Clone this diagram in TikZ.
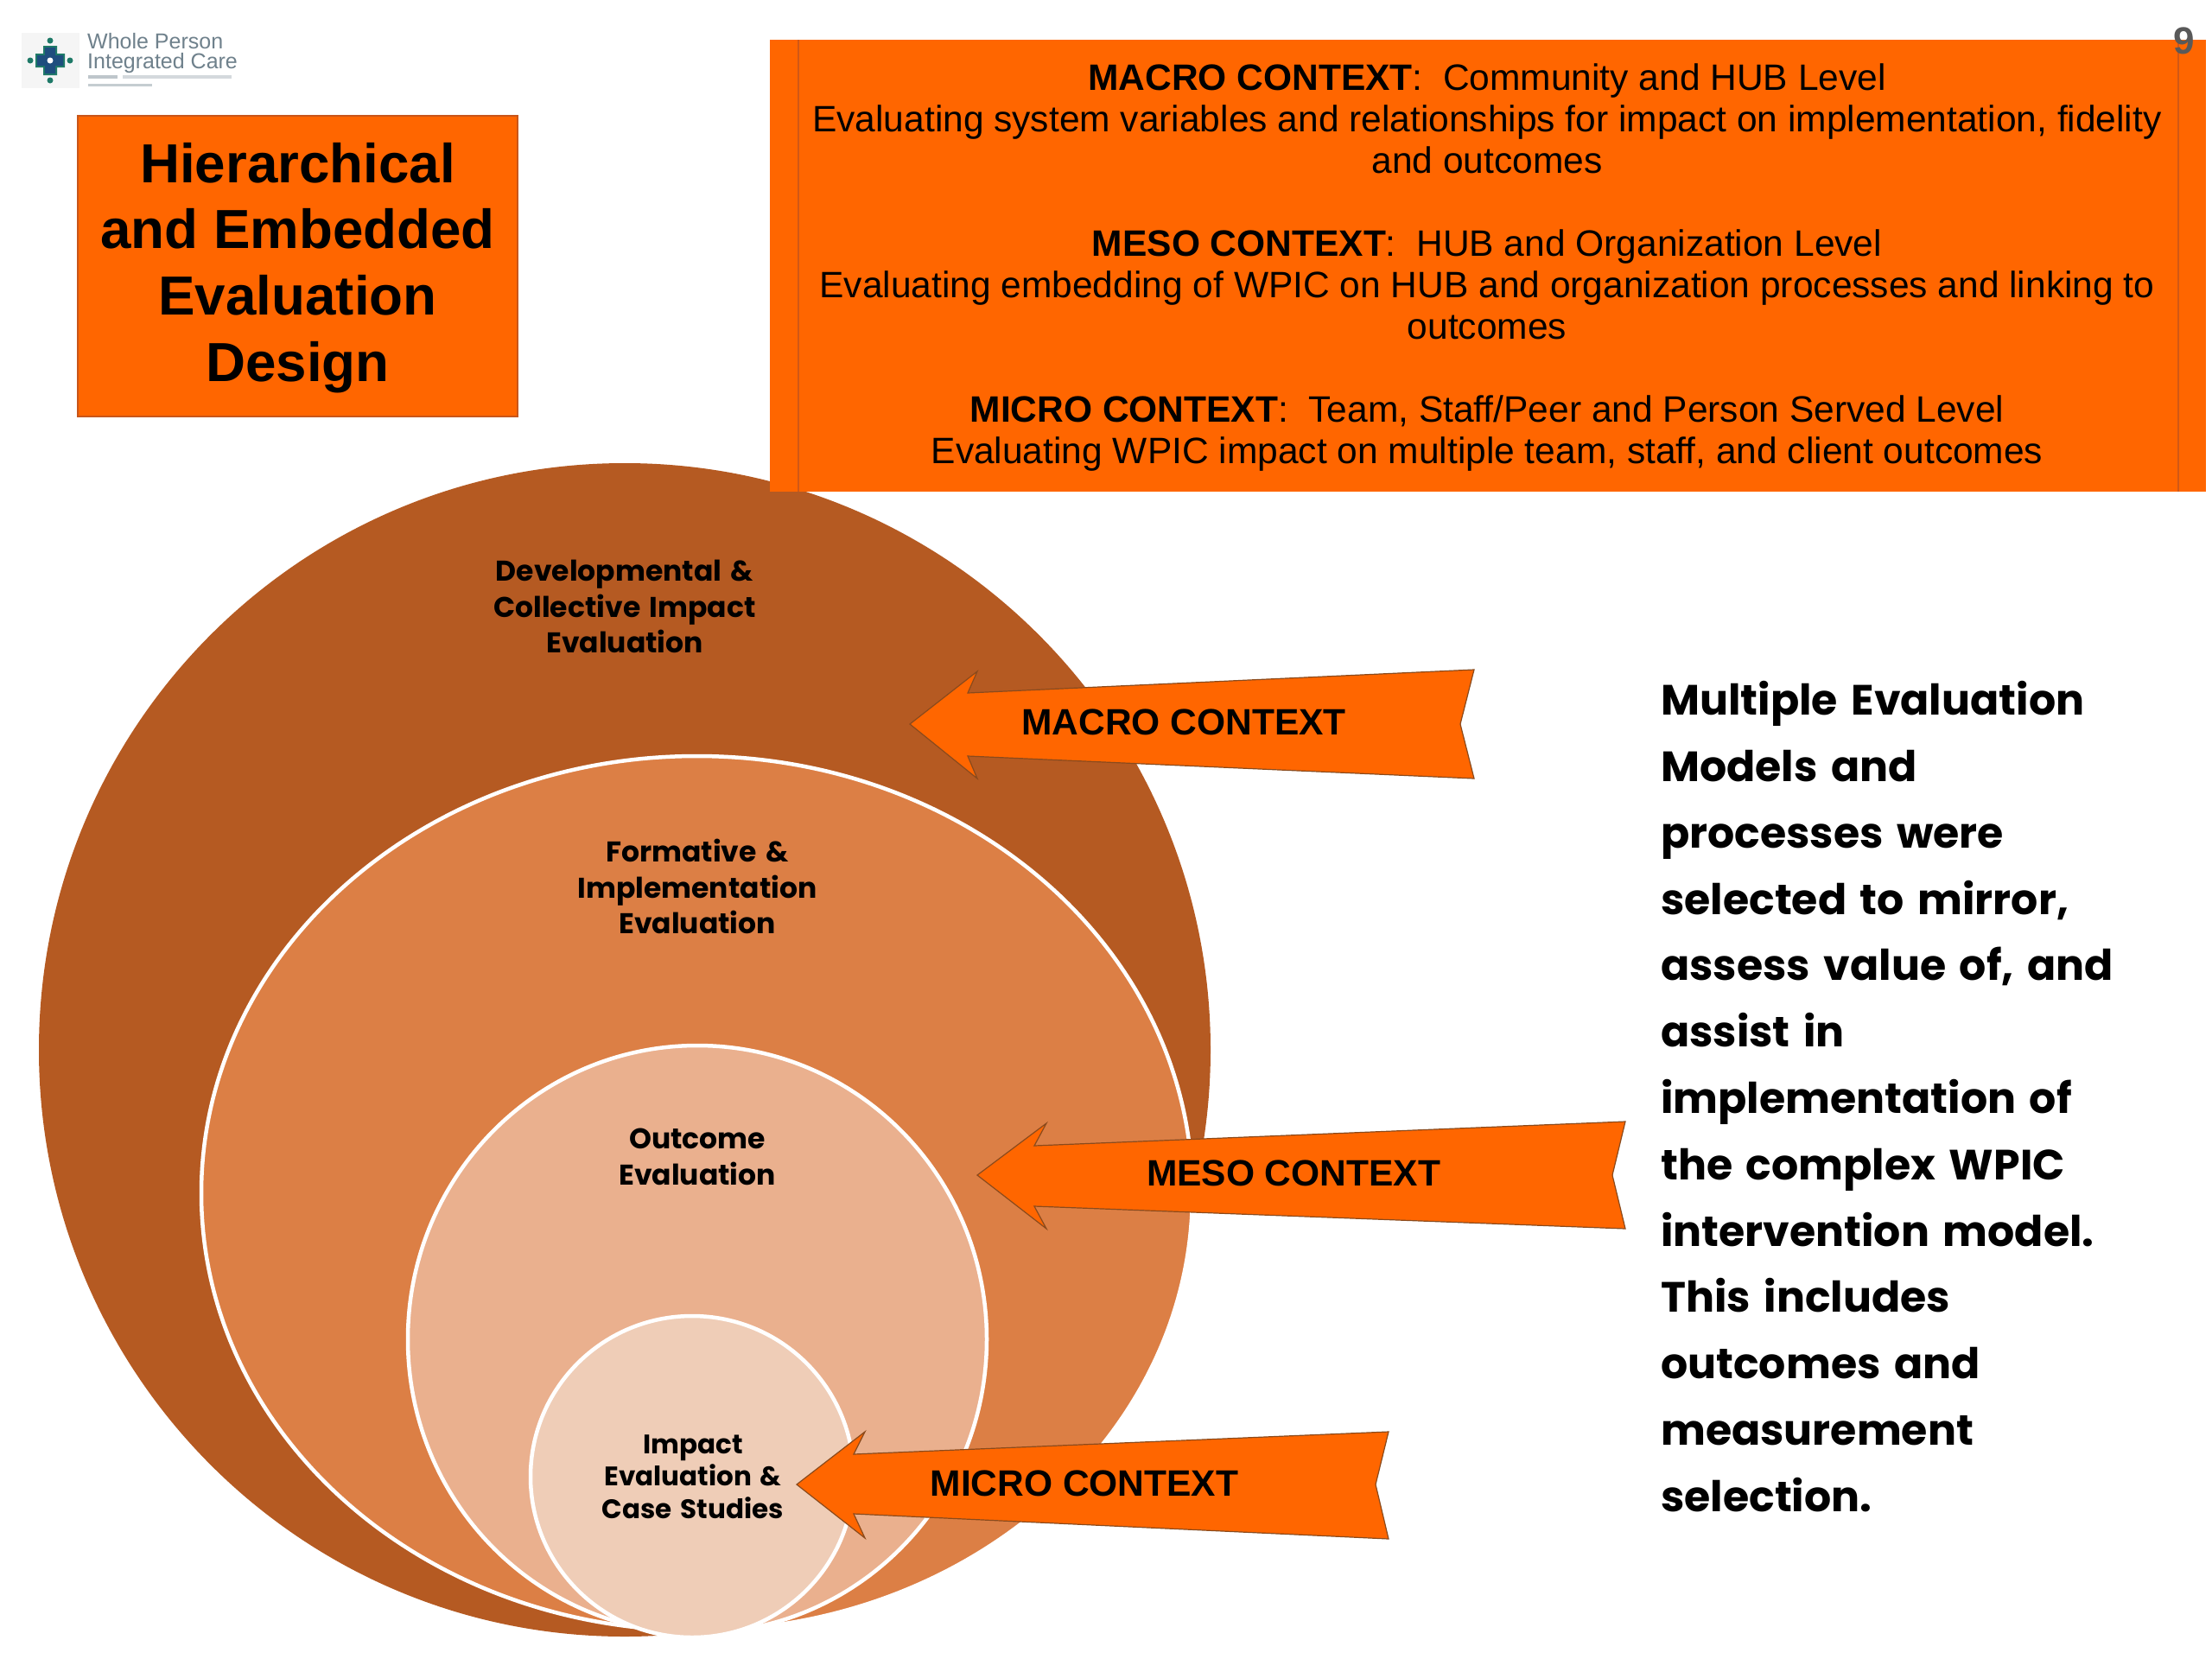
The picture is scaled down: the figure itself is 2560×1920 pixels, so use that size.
\documentclass[tikz,border=0pt]{standalone}
\usepackage{fontspec}
\setmainfont{Liberation Sans}
\newfontfamily\geo{Poppins}[WordSpace=1.5]
\definecolor{org}{HTML}{FF6600}
\definecolor{orgdk}{HTML}{C8561A}
\definecolor{c1}{HTML}{B55A22}
\definecolor{c2}{HTML}{DC7F45}
\definecolor{c3}{HTML}{EAB08E}
\definecolor{c4}{HTML}{EFCDB7}
\definecolor{arrowedge}{HTML}{8A4A1C}
\definecolor{logotxt}{HTML}{6F818C}
\definecolor{logoblue}{HTML}{1E4E7E}
\definecolor{logoteal}{HTML}{1F7A68}
\tikzset{
  x=1pt,y=-1pt,
  ring/.style={fill=#1,draw=white,line width=4.5pt},
  ringlabel/.style={font=\geo\bfseries\fontsize{33}{41.6}\selectfont,align=center,text=black,inner sep=0pt},
  smalllabel/.style={font=\geo\bfseries\fontsize{31}{37.5}\selectfont,align=center,text=black,inner sep=0pt},
  ctxarrow/.style={fill=org,draw=arrowedge,line width=1.2pt,line join=miter},
  ctxlabel/.style={font=\bfseries\fontsize{42.5}{48}\selectfont,text=black,inner sep=0pt},
}
\begin{document}
\begin{tikzpicture}
\useasboundingbox (0,0) rectangle (2560,1920);
\fill[white] (0,0) rectangle (2560,1920);
% rings
\fill[c1] (723,1215) ellipse [x radius=678,y radius=679];
\draw[ring=c2] (806.5,1381) ellipse [x radius=573.5,y radius=506];
\draw[ring=c3] (807,1550) ellipse [x radius=335,y radius=340];
\draw[ring=c4] (801,1709) ellipse [x radius=187,y radius=186];
\node[ringlabel] (dev) at (723,702) {Developmental \&\\Collective Impact\\Evaluation};
\node[ringlabel] (form) at (807,1026) {Formative \&\\Implementation\\Evaluation};
\node[ringlabel] (outc) at (807,1339) {Outcome\\Evaluation};
\node[smalllabel] (imp) at (802,1709) {Impact\\Evaluation \&\\Case Studies};
% logo
\fill[black!4] (25,38) rectangle (92,102);
\fill[logoteal] (58,47) circle (3.5) (58,93) circle (3.5) (35,70) circle (3.5) (81,70) circle (3.5);
\fill[logoteal] (50,53) rectangle (66,87) (41,62) rectangle (75,78);
\fill[logoblue] (52,55) rectangle (64,85) (43,64) rectangle (73,76);
\fill[white] (58,70) circle (3.5);
\node[font=\fontsize{25}{25}\selectfont,text=logotxt,anchor=base west,inner sep=0pt] (logoa) at (101,56) {Whole Person};
\node[font=\fontsize{25}{25}\selectfont,text=logotxt,anchor=base west,inner sep=0pt] (logob) at (101,79) {Integrated Care};
\fill[logotxt!45] (102,87) rectangle (136,91);
\fill[logotxt!30] (142,87) rectangle (268,91);
\fill[logotxt!40] (102,97) rectangle (176,100);
% title box
\node[draw=orgdk,line width=1.5pt,fill=org,minimum width=509,minimum height=348,inner sep=0pt] (title) at (344.5,308) {};
\node[font=\bfseries\fontsize{63.7}{76.7}\selectfont,align=center,inner sep=0pt] (titletext) at (344.5,310)
  {Hierarchical\\and Embedded\\Evaluation\\Design};
% context box
\fill[org] (891,46) rectangle (2553,569);
\draw[orgdk!85!org,line width=1.5pt] (924,46) -- (924,569) (2521,46) -- (2521,569);
\node[font=\fontsize{42.5}{48}\selectfont,align=center,inner sep=0pt] (ctx) at (1721,310)
  {\textbf{MACRO CONTEXT}:\ \ Community and HUB Level\\
   Evaluating system variables and relationships for impact on implementation, fidelity\\
   and outcomes\\[48pt]
   \textbf{MESO CONTEXT}:\ \ HUB and Organization Level\\
   Evaluating embedding of WPIC on HUB and organization processes and linking to\\
   outcomes\\[48pt]
   \textbf{MICRO CONTEXT}:\ \ Team, Staff/Peer and Person Served Level\\
   Evaluating WPIC impact on multiple team, staff, and client outcomes};
\node[font=\bfseries\fontsize{44}{44}\selectfont,text=black!65,inner sep=0pt] (pageno) at (2528,47) {9};
% arrows
\draw[ctxarrow] (1053,838) -- (1131,777) -- (1120,802) -- (1706,775) -- (1690,838) -- (1706,901) -- (1120,875) -- (1131,901) -- cycle;
\node[ctxlabel] (macro) at (1370,836) {MACRO CONTEXT};
\draw[ctxarrow] (1131,1360) -- (1211,1300) -- (1197,1326) -- (1881,1298) -- (1866,1360) -- (1881,1422) -- (1197,1396) -- (1211,1422) -- cycle;
\node[ctxlabel] (meso) at (1497,1358) {MESO CONTEXT};
\draw[ctxarrow] (922,1718) -- (1001,1657) -- (988,1683) -- (1607,1657) -- (1592,1718) -- (1607,1781) -- (988,1752) -- (1001,1780) -- cycle;
\node[ctxlabel] (micro) at (1255,1717) {MICRO CONTEXT};
% side text
\node[font=\geo\bfseries\fontsize{49}{76.8}\selectfont,align=left,anchor=west,inner sep=0pt] (side) at (1922,1269)
  {Multiple Evaluation\\Models and\\processes were\\selected to mirror,\\assess value of, and\\assist in\\implementation of\\the complex WPIC\\intervention model.\\This includes\\outcomes and\\measurement\\selection.};
\end{tikzpicture}
\end{document}
